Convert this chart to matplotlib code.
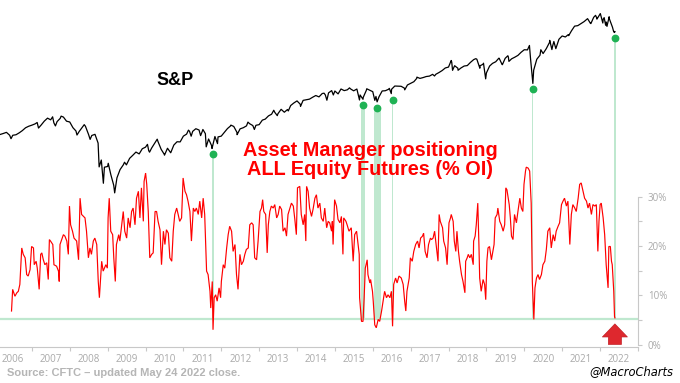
import numpy as np
import pandas as pd
import matplotlib
matplotlib.use("Agg")
import matplotlib.pyplot as plt
import matplotlib.transforms as mtransforms
from matplotlib.patches import ArrowStyle

# ---------------- DATA ----------------
# S&P 500 monthly closes, Jan 2006 .. Apr 2022 (month-end)
sp_monthly = [
    1280, 1281, 1295, 1311, 1270, 1270, 1277, 1304, 1336, 1378, 1401, 1418,  # 2006
    1438, 1407, 1421, 1482, 1531, 1503, 1455, 1474, 1527, 1549, 1481, 1468,  # 2007
    1379, 1331, 1323, 1386, 1400, 1280, 1267, 1283, 1166, 969, 896, 903,     # 2008
    826, 735, 798, 873, 919, 919, 987, 1021, 1057, 1036, 1096, 1115,         # 2009
    1074, 1104, 1169, 1187, 1089, 1031, 1102, 1049, 1141, 1183, 1181, 1258,  # 2010
    1286, 1327, 1326, 1364, 1345, 1321, 1292, 1219, 1131, 1253, 1247, 1258,  # 2011
    1312, 1366, 1408, 1398, 1310, 1362, 1379, 1407, 1441, 1412, 1416, 1426,  # 2012
    1498, 1515, 1569, 1598, 1631, 1606, 1686, 1633, 1682, 1757, 1806, 1848,  # 2013
    1783, 1859, 1872, 1884, 1924, 1960, 1931, 2003, 1972, 2018, 2068, 2059,  # 2014
    1995, 2105, 2068, 2086, 2107, 2063, 2104, 1972, 1920, 2079, 2080, 2044,  # 2015
    1940, 1932, 2060, 2065, 2097, 2099, 2174, 2171, 2168, 2126, 2199, 2239,  # 2016
    2279, 2364, 2363, 2384, 2412, 2423, 2470, 2472, 2519, 2575, 2648, 2674,  # 2017
    2824, 2714, 2641, 2648, 2705, 2718, 2816, 2902, 2914, 2712, 2760, 2507,  # 2018
    2704, 2784, 2834, 2946, 2752, 2942, 2980, 2926, 2977, 3038, 3141, 3231,  # 2019
    3226, 2954, 2585, 2912, 3044, 3100, 3271, 3500, 3363, 3270, 3622, 3756,  # 2020
    3714, 3811, 3973, 4181, 4204, 4298, 4395, 4523, 4308, 4605, 4567, 4766,  # 2021
    4516, 4374, 4530, 4132,                                                   # 2022
]
sp_monthly_start = "2006-01-31"

# intra-month highs / lows (daily closes)
sp_extra_dates = [
    "2006-06-13", "2007-02-20", "2007-03-05", "2007-07-19", "2007-08-15", "2007-10-09",
    "2008-03-10", "2008-05-19", "2008-07-15", "2008-10-10", "2008-11-20", "2009-01-06",
    "2009-03-09", "2009-06-12", "2010-01-19", "2010-02-08", "2010-04-23", "2010-07-02",
    "2011-02-18", "2011-03-16", "2011-06-15", "2011-07-07", "2011-08-08", "2011-10-03",
    "2011-11-25", "2012-04-02", "2012-06-01", "2012-09-14", "2012-11-15", "2013-05-21",
    "2013-06-24", "2013-10-08", "2014-02-03", "2014-09-18", "2014-10-15", "2014-12-16",
    "2015-05-21", "2015-08-25", "2015-09-28", "2015-11-03", "2016-01-20", "2016-02-11",
    "2016-06-08", "2016-06-27", "2016-11-04", "2017-03-01", "2017-08-18", "2018-01-26",
    "2018-02-08", "2018-04-02", "2018-09-20", "2018-10-29", "2018-12-03", "2018-12-24",
    "2019-05-03", "2019-06-03", "2019-07-26", "2019-08-05", "2020-02-19", "2020-03-23",
    "2020-06-08", "2020-09-02", "2020-09-23", "2020-10-12", "2021-03-04", "2021-09-02",
    "2021-10-04", "2021-11-18", "2021-12-01", "2022-01-03", "2022-01-27", "2022-02-09",
    "2022-02-23", "2022-03-08", "2022-03-29", "2022-05-12", "2022-05-20", "2022-05-24",
]
sp_extra_values = [
    1223, 1460, 1374, 1553, 1406, 1565,
    1273, 1426, 1214, 899, 752, 935,
    677, 946, 1150, 1056, 1217, 1022,
    1343, 1257, 1265, 1353, 1119, 1099,
    1159, 1419, 1278, 1466, 1353, 1669,
    1573, 1656, 1742, 2011, 1862, 1972,
    2131, 1867, 1881, 2110, 1859, 1829,
    2119, 2001, 2085, 2396, 2426, 2873,
    2581, 2582, 2931, 2641, 2790, 2351,
    2946, 2744, 3026, 2845, 3386, 2237,
    3232, 3580, 3237, 3535, 3768, 4537,
    4300, 4704, 4513, 4797, 4326, 4587,
    4225, 4170, 4632, 3930, 3901, 3941,
]

# Asset Manager net positioning, all equity futures (% of open interest)
am_t = [
    2006.46, 2006.49, 2006.55, 2006.60, 2006.64, 2006.68, 2006.73, 2006.77, 2006.82, 2006.86,
    2006.90, 2006.95, 2006.99, 2007.04, 2007.06, 2007.11, 2007.14, 2007.19, 2007.23, 2007.26,
    2007.30, 2007.34, 2007.39, 2007.43, 2007.46, 2007.49, 2007.55, 2007.58, 2007.65, 2007.70,
    2007.72, 2007.74, 2007.83, 2007.87, 2007.92, 2007.96, 2007.99, 2008.02, 2008.07, 2008.11,
    2008.18, 2008.23, 2008.27, 2008.31, 2008.40, 2008.44, 2008.49, 2008.53, 2008.57, 2008.62,
    2008.66, 2008.71, 2008.75, 2008.78, 2008.84, 2008.88, 2008.95, 2008.99, 2009.01, 2009.04,
    2009.08, 2009.13, 2009.16, 2009.20, 2009.23, 2009.29, 2009.32, 2009.37, 2009.41, 2009.45,
    2009.50, 2009.54, 2009.59, 2009.63, 2009.67, 2009.72, 2009.76, 2009.81, 2009.85, 2009.89,
    2009.94, 2009.96, 2010.00, 2010.03, 2010.07, 2010.11, 2010.16, 2010.20, 2010.25, 2010.29,
    2010.33, 2010.38, 2010.42, 2010.47, 2010.51, 2010.55, 2010.60, 2010.64, 2010.69, 2010.73,
    2010.77, 2010.82, 2010.86, 2010.90, 2010.95, 2010.99, 2011.04, 2011.08, 2011.12, 2011.17,
    2011.21, 2011.26, 2011.30, 2011.34, 2011.39, 2011.43, 2011.48, 2011.52, 2011.56, 2011.61,
    2011.65, 2011.70, 2011.72, 2011.76, 2011.78, 2011.81, 2011.85, 2011.89, 2011.94, 2011.98,
    2012.00, 2012.05, 2012.09, 2012.14, 2012.18, 2012.22, 2012.27, 2012.31, 2012.36, 2012.40,
    2012.44, 2012.49, 2012.53, 2012.58, 2012.62, 2012.66, 2012.71, 2012.75, 2012.80, 2012.84,
    2012.88, 2012.93, 2012.97, 2013.02, 2013.06, 2013.09, 2013.12, 2013.17, 2013.21, 2013.24,
    2013.28, 2013.32, 2013.37, 2013.41, 2013.46, 2013.50, 2013.54, 2013.59, 2013.63, 2013.68,
    2013.72, 2013.76, 2013.81, 2013.85, 2013.90, 2013.94, 2013.98, 2014.01, 2014.07, 2014.11,
    2014.16, 2014.20, 2014.23, 2014.25, 2014.29, 2014.33, 2014.38, 2014.42, 2014.47, 2014.51,
    2014.55, 2014.60, 2014.64, 2014.69, 2014.73, 2014.78, 2014.82, 2014.86, 2014.91, 2014.93,
    2014.95, 2014.99, 2015.04, 2015.08, 2015.13, 2015.17, 2015.21, 2015.23, 2015.29, 2015.32,
    2015.37, 2015.43, 2015.48, 2015.52, 2015.57, 2015.61, 2015.64, 2015.65, 2015.70, 2015.74,
    2015.77, 2015.80, 2015.85, 2015.87, 2015.92, 2015.94, 2015.99, 2016.01, 2016.05, 2016.09,
    2016.14, 2016.18, 2016.23, 2016.27, 2016.31, 2016.36, 2016.40, 2016.45, 2016.49, 2016.52,
    2016.55, 2016.60, 2016.64, 2016.69, 2016.75, 2016.80, 2016.84, 2016.87, 2016.90, 2016.96,
    2016.99, 2017.04, 2017.08, 2017.13, 2017.18, 2017.22, 2017.26, 2017.31, 2017.34, 2017.38,
    2017.43, 2017.47, 2017.52, 2017.55, 2017.59, 2017.63, 2017.68, 2017.72, 2017.75, 2017.78,
    2017.84, 2017.87, 2017.92, 2017.96, 2018.01, 2018.05, 2018.07, 2018.12, 2018.15, 2018.19,
    2018.22, 2018.26, 2018.29, 2018.34, 2018.38, 2018.43, 2018.45, 2018.49, 2018.52, 2018.56,
    2018.60, 2018.65, 2018.66, 2018.70, 2018.73, 2018.77, 2018.80, 2018.82, 2018.86, 2018.91,
    2018.95, 2018.98, 2019.01, 2019.04, 2019.08, 2019.13, 2019.17, 2019.20, 2019.23, 2019.28,
    2019.30, 2019.35, 2019.39, 2019.44, 2019.48, 2019.51, 2019.54, 2019.60, 2019.63, 2019.66,
    2019.70, 2019.74, 2019.79, 2019.83, 2019.88, 2019.92, 2019.96, 2019.99, 2020.03, 2020.05,
    2020.10, 2020.14, 2020.18, 2020.21, 2020.25, 2020.28, 2020.32, 2020.36, 2020.40, 2020.45,
    2020.49, 2020.54, 2020.58, 2020.62, 2020.67, 2020.71, 2020.76, 2020.80, 2020.84, 2020.89,
    2020.93, 2020.98, 2021.02, 2021.06, 2021.11, 2021.15, 2021.20, 2021.24, 2021.28, 2021.33,
    2021.37, 2021.42, 2021.46, 2021.50, 2021.55, 2021.59, 2021.64, 2021.68, 2021.72, 2021.77,
    2021.81, 2021.86, 2021.90, 2021.94, 2021.97, 2022.00, 2022.03, 2022.08, 2022.12, 2022.16,
    2022.21, 2022.23, 2022.27, 2022.30, 2022.32, 2022.36, 2022.38, 2022.39,
]
am_v = [
    6.8, 11.2, 9.8, 10.5, 10.8, 12.2, 19.6, 18.3, 17.6, 14.2,
    13.9, 15.2, 19.9, 19.6, 16.2, 16.9, 15.5, 11.2, 18.3, 18.6,
    17.2, 16.2, 16.6, 13.2, 21.3, 21.0, 20.3, 16.2, 15.9, 14.9,
    12.8, 20.3, 22.3, 22.0, 21.0, 18.3, 28.1, 24.3, 23.0, 21.6,
    21.0, 17.2, 29.7, 26.4, 25.7, 23.0, 17.6, 19.6, 18.3, 21.0,
    21.6, 20.3, 12.8, 9.5, 16.9, 14.9, 16.2, 15.5, 25.7, 29.7,
    23.0, 22.3, 17.6, 12.8, 20.3, 22.3, 21.0, 24.3, 27.0, 23.0,
    21.6, 25.7, 23.7, 27.0, 27.7, 24.3, 29.7, 31.1, 25.7, 31.8,
    25.0, 33.1, 34.8, 32.5, 27.0, 17.6, 18.3, 18.6, 27.0, 27.0,
    25.0, 23.3, 16.2, 23.0, 20.3, 23.3, 22.6, 17.6, 16.9, 23.0,
    26.4, 27.7, 26.4, 25.0, 25.7, 33.8, 31.1, 30.4, 29.1, 27.0,
    21.0, 27.7, 27.0, 27.7, 26.4, 29.1, 25.7, 29.7, 26.4, 14.9,
    14.2, 10.8, 7.4, 12.8, 3.0, 9.5, 10.1, 8.8, 11.5, 9.5,
    12.8, 16.2, 15.5, 19.6, 22.3, 24.0, 23.0, 18.9, 20.3, 14.2,
    11.2, 18.3, 16.2, 16.9, 18.3, 19.3, 19.6, 24.3, 24.7, 24.3,
    17.6, 17.2, 21.0, 27.0, 27.7, 29.4, 27.0, 26.4, 18.6, 24.3,
    27.0, 28.1, 27.7, 28.4, 25.7, 26.4, 28.1, 27.4, 23.0, 23.7,
    22.0, 26.4, 27.7, 28.7, 28.1, 25.4, 22.3, 31.8, 32.1, 26.4,
    24.3, 26.4, 21.0, 32.1, 31.1, 27.7, 26.0, 27.4, 29.7, 30.4,
    27.7, 28.7, 25.7, 25.0, 27.7, 23.7, 25.0, 24.7, 23.0, 25.0,
    20.3, 29.4, 28.1, 25.4, 24.7, 26.0, 18.3, 25.7, 25.0, 24.3,
    23.0, 23.7, 16.9, 22.3, 23.0, 20.3, 18.3, 9.5, 4.7, 4.7,
    9.5, 15.5, 17.2, 14.2, 12.5, 13.2, 10.8, 8.8, 4.0, 3.4,
    5.1, 4.7, 6.8, 8.8, 10.8, 9.5, 10.1, 9.5, 10.8, 3.7,
    12.2, 13.5, 12.5, 13.9, 13.5, 12.2, 8.8, 6.8, 10.8, 13.5,
    17.6, 16.9, 18.9, 20.3, 21.0, 19.6, 21.6, 22.0, 22.6, 18.9,
    17.6, 20.3, 21.6, 21.3, 21.6, 23.0, 19.6, 16.9, 26.4, 25.0,
    23.7, 21.0, 19.6, 16.2, 24.7, 25.7, 26.4, 25.0, 21.0, 18.9,
    23.0, 18.9, 16.9, 14.2, 12.8, 10.5, 16.9, 17.6, 18.3, 17.6,
    18.3, 16.2, 21.0, 22.0, 24.3, 28.7, 20.3, 13.5, 10.8, 13.2,
    12.2, 9.1, 16.9, 19.6, 19.9, 17.2, 18.9, 20.3, 25.7, 26.4,
    27.7, 25.0, 24.3, 23.0, 24.3, 31.8, 31.4, 28.4, 25.7, 22.0,
    21.3, 26.4, 24.7, 27.0, 29.7, 27.7, 27.0, 32.5, 35.2, 36.0,
    35.8, 35.2, 28.7, 12.8, 5.1, 11.5, 13.5, 14.2, 13.2, 14.2,
    16.2, 16.9, 19.3, 23.0, 23.7, 19.6, 22.3, 21.0, 23.0, 24.0,
    24.7, 28.4, 29.1, 29.7, 28.1, 29.1, 20.3, 26.4, 28.4, 27.7,
    27.0, 29.7, 32.5, 32.8, 31.1, 29.7, 29.1, 27.7, 28.7, 26.4,
    28.4, 28.1, 28.4, 18.9, 25.0, 28.4, 28.7, 25.7, 22.3, 16.2,
    11.5, 19.9, 19.9, 16.9, 16.2, 10.8, 5.7, 5.4,
]

threshold = 5.2  # horizontal reference level (% OI)

# highlighted episodes (start, end as decimal years)
event_start = [2011.76, 2015.68, 2016.02, 2016.50, 2020.20, 2022.37]
event_end = [2011.80, 2015.78, 2016.22, 2016.54, 2020.24, 2022.41]

year_labels = [str(y) for y in range(2006, 2023)]
pct_ticks = [0, 10, 20, 30]
pct_minor = [5, 15, 25]

# ---------------- PREP ----------------
def to_decimal_year(dates):
    d = pd.to_datetime(pd.Series(dates))
    start = pd.to_datetime(d.dt.year.astype(str) + "-01-01")
    ndays = np.where(d.dt.is_leap_year, 366.0, 365.0)
    return (d.dt.year + (d - start).dt.days / ndays).to_numpy()

m_dates = pd.date_range(sp_monthly_start, periods=len(sp_monthly), freq="ME")
sp_t = np.concatenate([to_decimal_year(m_dates), to_decimal_year(sp_extra_dates)])
sp_v = np.concatenate([np.array(sp_monthly, float), np.array(sp_extra_values, float)])
order = np.argsort(sp_t)
sp_t, sp_v = sp_t[order], sp_v[order]

# ---------------- FIGURE ----------------
DPI = 100
fig = plt.figure(figsize=(6.8, 3.83), dpi=DPI)
ax = fig.add_axes([0.0, 0.094, 638 / 680, 0.898])
ax.set_xlim(2006.156, 2023.0)
ax.set_ylim(-0.5, 69.3)
ax.patch.set_alpha(0)

ax2 = ax.twinx()
ax2.set_yscale("log")
ax2.set_ylim(125.8, 5379)
ax2.patch.set_alpha(0)
for s in ax2.spines.values():
    s.set_visible(False)
ax2.set_yticks([])
ax2.minorticks_off()
ax2.tick_params(axis="y", which="both", right=False, labelright=False)

grey = "#c8c8c8"
label_grey = "#a9a9a9"
band_col = "#bfe8cf"
dot_col = "#1fb254"

# spines
ax.spines["top"].set_visible(False)
ax.spines["left"].set_visible(False)
ax.spines["bottom"].set_color(grey)
ax.spines["right"].set_color(grey)
ax.spines["right"].set_bounds(0, 30)

# y ticks (right)
ax.yaxis.tick_right()
ax.set_yticks(pct_ticks)
ax.set_yticklabels([f"{v}%" for v in pct_ticks])
ax.set_yticks(pct_minor, minor=True)
ax.tick_params(axis="y", which="both", length=3, color=grey, labelcolor=label_grey,
               labelsize=7, pad=4, width=0.8)
for lab in ax.get_yticklabels():
    lab.set_family("Open Sans")

# x ticks: marks at year boundaries, labels at mid-year
ax.set_xticks(np.arange(2007, 2024))
ax.set_xticklabels([])
mid = np.arange(2006, 2023) + 0.5
ax.set_xticks(mid, minor=True)
ax.set_xticklabels(year_labels, minor=True)
ax.tick_params(axis="x", which="major", length=3, color=grey, width=0.8)
ax.tick_params(axis="x", which="minor", length=0, labelcolor=label_grey, labelsize=7, pad=5)
for lab in ax.get_xticklabels(minor=True):
    lab.set_family("Open Sans")

# threshold line
ax.axhline(threshold, color=band_col, lw=1.6, zorder=1)

# event bands + dots
offset = mtransforms.ScaledTranslation(0, -6 / DPI, fig.dpi_scale_trans)
fine = np.linspace(2006.0, 2022.5, 20000)
sp_fine = np.interp(fine, sp_t, sp_v)
to_axes = ax2.transData + ax.transAxes.inverted()
thr_frac = (ax.transData + ax.transAxes.inverted()).transform((2010, threshold))[1]
dot_t, dot_v = [], []
for s, e in zip(event_start, event_end):
    c = 0.5 * (s + e)
    win = (fine >= s - 0.02) & (fine <= e + 0.02)
    p = sp_fine[win].min()
    dot_t.append(c)
    dot_v.append(p)
    top_frac = to_axes.transform((c, p))[1] - 6 / (0.898 * 383)
    ax.axvspan(s, e, ymin=thr_frac, ymax=top_frac, color=band_col, lw=0, zorder=0.5)

# red positioning line
ax.plot(am_t, am_v, color="#ff0000", lw=0.85, zorder=3, solid_joinstyle="miter")

# S&P line
ax2.plot(sp_t, sp_v, color="black", lw=0.9, zorder=3)
ax2.plot(dot_t, dot_v, "o", ms=4.6, color=dot_col, mec=dot_col,
         transform=ax2.transData + offset, zorder=4, clip_on=False)

# red arrow pointing to the latest reading
ax.annotate("", xy=(am_t[-1], am_v[-1]), xycoords="data",
            xytext=(0, -26.5), textcoords="offset pixels",
            arrowprops=dict(arrowstyle=ArrowStyle.Simple(head_length=9.4, head_width=18,
                                                          tail_width=9.4),
                            mutation_scale=1, shrinkA=0, shrinkB=4.3,
                            fc="#de282e", ec="#c21f25", lw=0.5),
            zorder=5)

# texts
H = 383.0
W = 680.0
fig.text(175 / W, 1 - 85 / H, "S&P", ha="center", va="baseline", fontsize=13,
         fontweight="bold", family="Liberation Sans", color="black")
fig.text(370.5 / W, 1 - 156 / H, "Asset Manager positioning", ha="center", va="baseline",
         fontsize=14.3, fontweight="bold", family="Liberation Sans", color="#ff0000")
fig.text(370.5 / W, 1 - 175 / H, "ALL Equity Futures (% OI)", ha="center", va="baseline",
         fontsize=14.3, fontweight="bold", family="Liberation Sans", color="#ff0000")
fig.text(6.7 / W, 1 - 376.5 / H, "Source: CFTC \u2013 updated May 24 2022 close.",
         ha="left", va="baseline", fontsize=8, fontweight="bold",
         family="Liberation Sans", color="#b5b5b5")
fig.text(673 / W, 1 - 375.5 / H, "@MacroCharts", ha="right", va="baseline",
         fontsize=8.3, style="italic", family="DejaVu Sans", color="black")

fig.savefig("out.png", dpi=DPI, facecolor="white")
